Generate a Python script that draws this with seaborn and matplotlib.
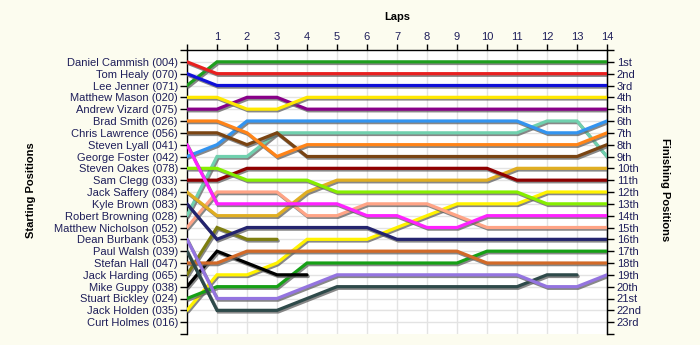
import matplotlib
matplotlib.use("Agg")
import matplotlib.pyplot as plt
import seaborn as sns
import pandas as pd
import numpy as np
from matplotlib import patheffects as pe

# ---------------- data ----------------
laps = list(range(15))
lap_labels = [str(i) for i in range(1, 15)]

drivers = [
    "Daniel Cammish (004)", "Tom Healy (070)", "Lee Jenner (071)",
    "Matthew Mason (020)", "Andrew Vizard (075)", "Brad Smith (026)",
    "Chris Lawrence (056)", "Steven Lyall (041)", "George Foster (042)",
    "Steven Oakes (078)", "Sam Clegg (033)", "Jack Saffery (084)",
    "Kyle Brown (083)", "Robert Browning (028)", "Matthew Nicholson (052)",
    "Dean Burbank (053)", "Paul Walsh (039)", "Stefan Hall (047)",
    "Jack Harding (065)", "Mike Guppy (038)", "Stuart Bickley (024)",
    "Jack Holden (035)", "Curt Holmes (016)",
]

finish_labels = ["1st", "2nd", "3rd"] + [f"{i}th" for i in range(4, 21)] + ["21st", "22nd", "23rd"]

N = None
cammish   = [1, 2, 2, 2, 2, 2, 2, 2, 2, 2, 2, 2, 2, 2, 2]
healy     = [2, 3, 3, 3, 3, 3, 3, 3, 3, 3, 3, 3, 3, 3, 3]
jenner    = [3, 1, 1, 1, 1, 1, 1, 1, 1, 1, 1, 1, 1, 1, 1]
mason     = [4, 4, 5, 5, 4, 4, 4, 4, 4, 4, 4, 4, 4, 4, 4]
vizard    = [5, 5, 4, 4, 5, 5, 5, 5, 5, 5, 5, 5, 5, 5, 5]
smith     = [6, 6, 7, 9, 8, 8, 8, 8, 8, 8, 8, 8, 8, 8, 7]
lawrence  = [7, 7, 8, 7, 9, 9, 9, 9, 9, 9, 9, 9, 9, 9, 8]
lyall     = [8, 13, 13, 13, 13, 13, 14, 14, 15, 15, 14, 14, 14, 14, 14]
foster    = [9, 8, 6, 6, 6, 6, 6, 6, 6, 6, 6, 6, 7, 7, 6]
oakes     = [10, 10, 11, 11, 11, 12, 12, 12, 12, 12, 12, 12, 13, 13, 13]
clegg     = [11, 11, 10, 10, 10, 10, 10, 10, 10, 10, 10, 11, 11, 11, 11]
saffery   = [12, 14, 14, 14, 12, 11, 11, 11, 11, 11, 11, 10, 10, 10, 10]
brown     = [13, 16, 15, 15, 15, 15, 15, 16, 16, 16, 16, 16, 16, 16, 16]
browning  = [14, 9, 9, 7, 7, 7, 7, 7, 7, 7, 7, 7, 6, 6, 9]
nicholson = [15, 12, 12, 12, 14, 14, 13, 13, 13, 14, 15, 15, 15, 15, 15]
burbank   = [16, 21, 21, 21, 20, 19, 19, 19, 19, 19, 19, 19, 20, 20, 19]
walsh     = [17, 22, 22, 22, 21, 20, 20, 20, 20, 20, 20, 20, 19, 19, N]
hall      = [18, 18, 17, 17, 17, 17, 17, 17, 17, 17, 18, 18, 18, 18, 18]
harding   = [19, 15, 16, 16, N, N, N, N, N, N, N, N, N, N, N]
guppy     = [20, 17, 18, 19, 19, N, N, N, N, N, N, N, N, N, N]
bickley   = [21, 20, 20, 20, 18, 18, 18, 18, 18, 18, 17, 17, 17, 17, 17]
holden    = [22, 19, 19, 18, 16, 16, 16, 15, 14, 13, 13, 13, 12, 12, 12]
holmes    = [N] * 15

series = [cammish, healy, jenner, mason, vizard, smith, lawrence, lyall,
          foster, oakes, clegg, saffery, brown, browning, nicholson, burbank,
          walsh, hall, harding, guppy, bickley, holden, holmes]

colors = ["#E82020", "#1010D8", "#1E9E1E", "#FFE800", "#880088", "#FF8418",
          "#7A4412", "#FF22FF", "#3394F0", "#86EE00", "#8E0000", "#E0AE22",
          "#24246E", "#70D0AE", "#FFA486", "#9474E0", "#2E4A4A", "#D26A28",
          "#7E7E10", "#000000", "#16A016", "#FFF200", "#999999"]

rows = []
for d, s in zip(drivers, series):
    for lap, p in zip(laps, s):
        if p is not None:
            rows.append({"driver": d, "lap": lap, "pos": p})
df = pd.DataFrame(rows)
palette = {d: c for d, c in zip(drivers, colors)}

# ---------------- plot ----------------
sns.set_style("white")
plt.rcParams["font.family"] = ["Liberation Sans", "DejaVu Sans"]

bg = "#FCFCEF"
label_col = "#1E1E5A"
fig = plt.figure(figsize=(7, 3.45), dpi=100, facecolor=bg)
ax = fig.add_axes([187 / 700, 11 / 345, 420 / 700, 284 / 345])
ax.set_facecolor("white")

ytop, ybot = 0, 24
ax.set_xlim(0, 14)
ax.set_ylim(ybot, ytop)

sns.lineplot(data=df, x="lap", y="pos", hue="driver", palette=palette,
             hue_order=drivers[::-1], estimator=None, sort=False,
             legend=False, linewidth=2.3, ax=ax)
for ln in ax.lines:
    ln.set_solid_joinstyle("miter")
    ln.set_path_effects([pe.SimpleLineShadow(offset=(0.9, -1.2), shadow_color="#606060", alpha=0.75),
                         pe.Normal()])
    ln.set_zorder(3)

ax.set_xlabel("")
ax.set_ylabel("")
ax.xaxis.tick_top()
ax.set_xticks(range(1, 15))
ax.set_xticklabels(lap_labels)
ax.set_xticks([0], minor=True)
ax.set_yticks(range(1, 24))
ax.set_yticklabels(drivers)
ax.set_yticks([ytop, ybot], minor=True)
ax.grid(True, which="major", color="#E3E3E3", linewidth=1, zorder=0)
ax.set_axisbelow(True)

ax.spines["bottom"].set_visible(False)
for side in ["top", "left", "right"]:
    ax.spines[side].set_color("black")
    ax.spines[side].set_linewidth(1)

ax.tick_params(axis="x", which="both", top=True, bottom=False, direction="out",
               length=4, width=1, color="black", labelsize=8, labelcolor=label_col, pad=2)
ax.tick_params(axis="y", which="both", left=True, direction="out", length=5, width=1,
               color="black", labelsize=8, labelcolor=label_col, pad=1.5)

ax2 = ax.twinx()
ax2.set_ylim(ybot, ytop)
ax2.set_yticks(range(1, 24))
ax2.set_yticklabels(finish_labels)
ax2.set_yticks([ytop, ybot], minor=True)
ax2.spines["bottom"].set_visible(False)
ax2.spines["top"].set_visible(False)
ax2.spines["left"].set_visible(False)
ax2.spines["right"].set_color("black")
ax2.tick_params(axis="y", which="both", direction="out", length=5, width=1, color="black",
                labelsize=8, labelcolor=label_col, pad=2)
ax2.grid(False)

fig.text(397 / 700, 1 - 17 / 345, "Laps", ha="center", va="center",
         fontsize=8, fontweight="bold", color="black")
fig.text(31 / 700, 1 - 190 / 345, "Starting Positions", ha="center", va="center",
         rotation=90, fontsize=8, fontweight="bold", color="black")
fig.text(665 / 700, 1 - 190 / 345, "Finishing Positions", ha="center", va="center",
         rotation=-90, fontsize=8, fontweight="bold", color="black")

fig.savefig("out.png", dpi=100, facecolor=bg)
